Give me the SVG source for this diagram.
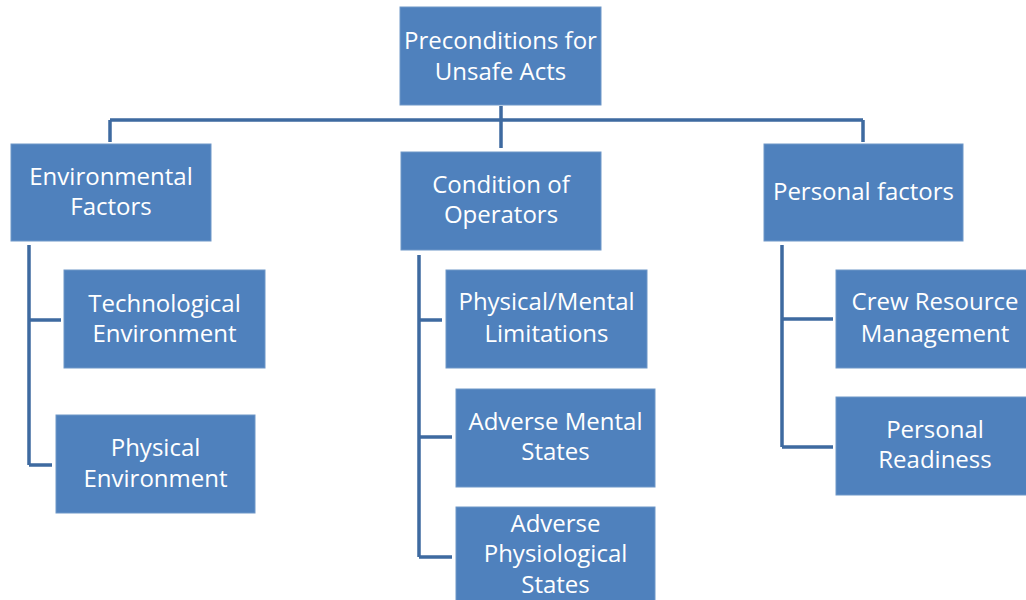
<svg xmlns="http://www.w3.org/2000/svg" width="1026" height="600" viewBox="0 0 1026 600">
<style>
.box{fill:#4f81bd;stroke:#6f97c8;stroke-width:1}
.t{fill:#ffffff;font-family:"Open Sans","Liberation Sans",sans-serif;font-size:24px;text-anchor:middle}
.c{fill:none;stroke:#3e6aa0;stroke-width:3.5}
</style>
<rect width="1026" height="600" fill="#ffffff"/>
<g id="connectors">
<path class="c" d="M501 106 V148 M110 120 H863 M110 120 V142 M863 120 V142"/>
<path class="c" d="M29 245 V465 M29 320 H61 M29 465 H52"/>
<path class="c" d="M419 255 V557 M419 320 H442 M419 437 H452 M419 557 H452"/>
<path class="c" d="M782 245 V447 M782 319 H833 M782 447 H833"/>
</g>
<g id="n-root"><rect class="box" x="400" y="7" width="201" height="98"/><text class="t" x="500.5" y="49">Preconditions for</text><text class="t" x="500.5" y="80">Unsafe Acts</text></g>
<g id="n-env"><rect class="box" x="11" y="144" width="200" height="97"/><text class="t" x="111" y="185">Environmental</text><text class="t" x="111" y="215">Factors</text></g>
<g id="n-cond"><rect class="box" x="401" y="152" width="200" height="98"/><text class="t" x="501" y="193">Condition of</text><text class="t" x="501" y="223">Operators</text></g>
<g id="n-pers"><rect class="box" x="764" y="144" width="199" height="97"/><text class="t" x="863.5" y="200">Personal factors</text></g>
<g id="n-tech"><rect class="box" x="64" y="270" width="201" height="98"/><text class="t" x="164.5" y="312">Technological</text><text class="t" x="164.5" y="342">Environment</text></g>
<g id="n-phys"><rect class="box" x="56" y="415" width="199" height="98"/><text class="t" x="155.5" y="456">Physical</text><text class="t" x="155.5" y="487">Environment</text></g>
<g id="n-pml"><rect class="box" x="446" y="270" width="201" height="98"/><text class="t" x="546.5" y="310">Physical/Mental</text><text class="t" x="546.5" y="342">Limitations</text></g>
<g id="n-ams"><rect class="box" x="456" y="389" width="199" height="98"/><text class="t" x="555.5" y="430">Adverse Mental</text><text class="t" x="555.5" y="460">States</text></g>
<g id="n-aps"><rect class="box" x="456" y="507" width="199" height="100"/><text class="t" x="555.5" y="532">Adverse</text><text class="t" x="555.5" y="562">Physiological</text><text class="t" x="555.5" y="593">States</text></g>
<g id="n-crm"><rect class="box" x="836" y="270" width="200" height="98"/><text class="t" x="935" y="310">Crew Resource</text><text class="t" x="935" y="342">Management</text></g>
<g id="n-pr"><rect class="box" x="836" y="397" width="200" height="98"/><text class="t" x="935" y="438">Personal</text><text class="t" x="935" y="468">Readiness</text></g>
</svg>
